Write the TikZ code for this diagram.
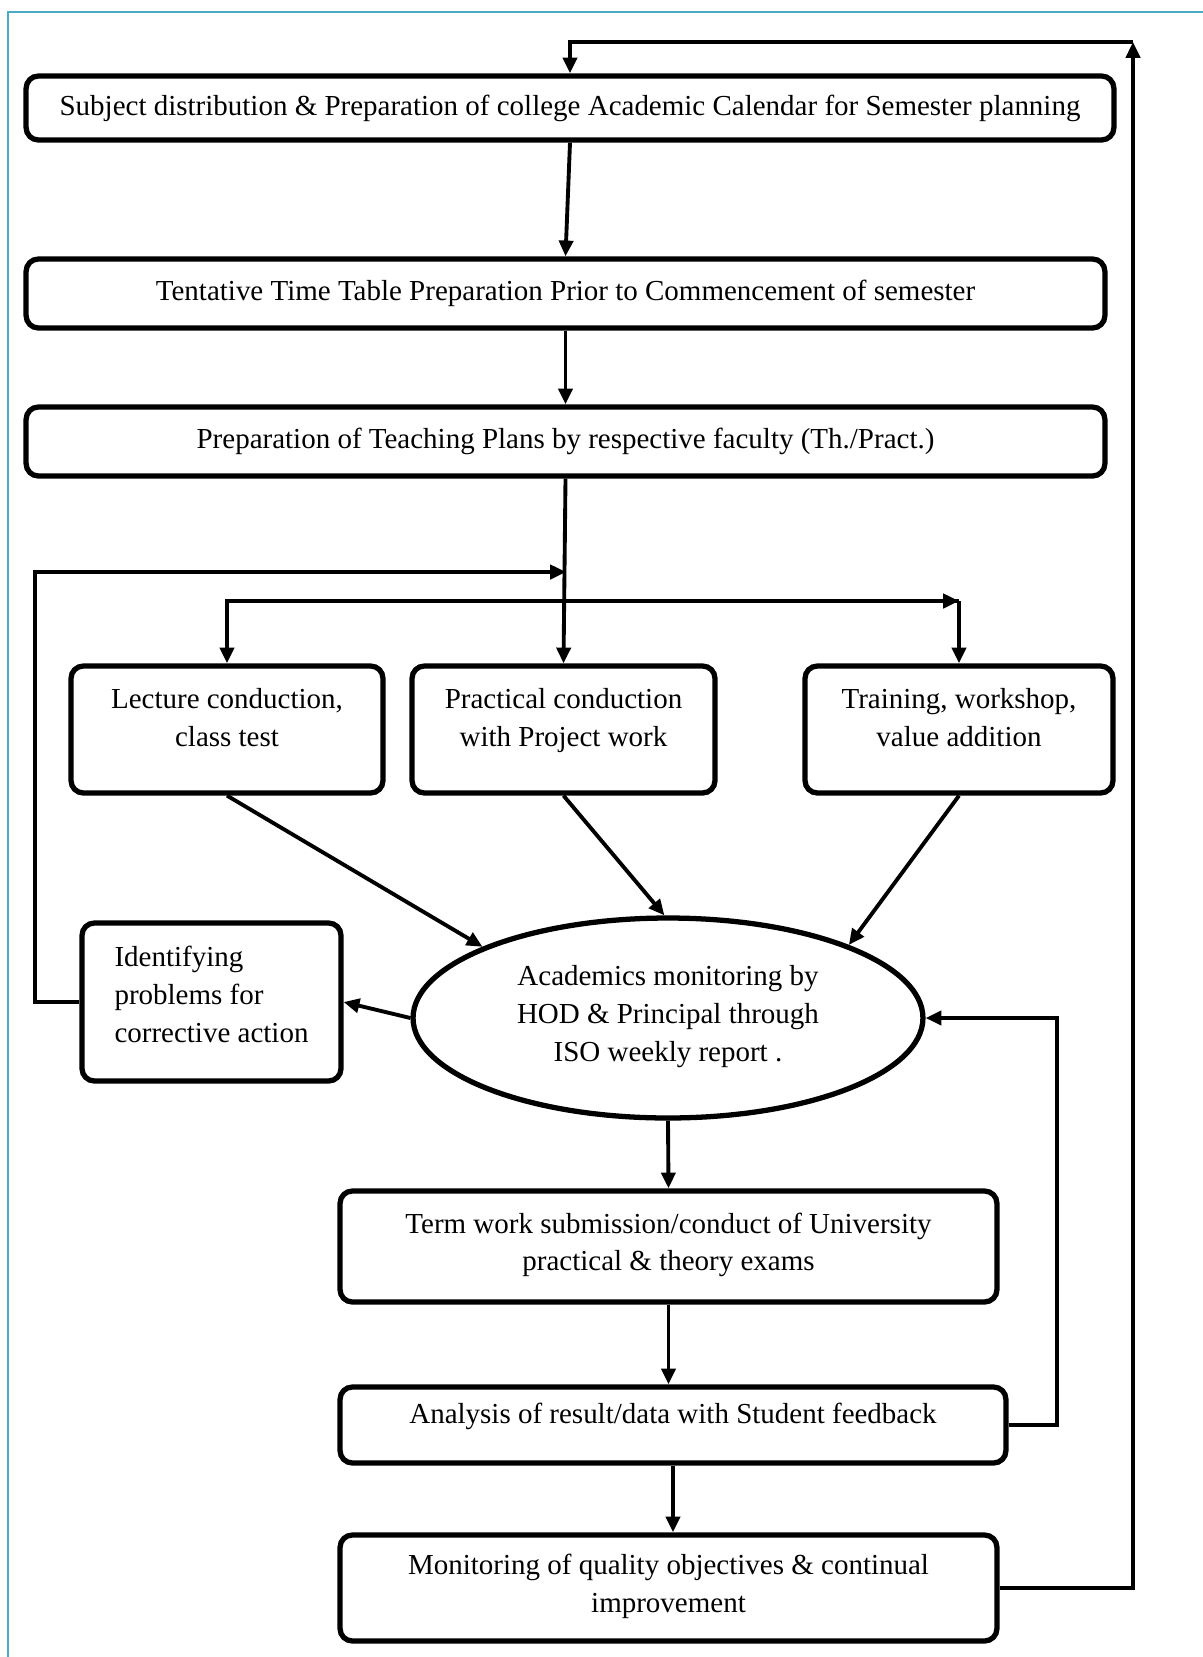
\documentclass[tikz,border=0pt]{standalone}
\usepackage{fontspec}
\setmainfont{Liberation Serif}
\usetikzlibrary{arrows.meta,shapes.geometric}
\definecolor{framecyan}{RGB}{75,172,198}
\begin{document}
\begin{tikzpicture}[x=0.02cm,y=-0.02cm,
  box/.style={draw,line width=3pt,rounded corners=7pt,align=center,inner sep=2pt,
    font=\fontsize{16.5}{21.5}\selectfont},
  oval/.style={draw,ellipse,line width=3pt,align=center,inner sep=0pt,
    font=\fontsize{16.5}{21.5}\selectfont},
  arr/.style={-{Triangle[length=9pt,width=8pt]},line width=2.2pt}]
\useasboundingbox (0,0) rectangle (1203,1657);
\draw[framecyan,line width=1.6pt] (8,1657)--(8,12)--(1203,12);
% main chain
\node[box,minimum width=21.76cm,minimum height=1.28cm] (subj) at (570,108)
  {Subject distribution \& Preparation of college Academic Calendar for Semester planning};
\node[box,minimum width=21.58cm,minimum height=1.38cm] (tt) at (565.5,293.5)
  {Tentative Time Table Preparation Prior to Commencement of semester};
\node[box,minimum width=21.58cm,minimum height=1.38cm] (plan) at (565.5,441.5)
  {Preparation of Teaching Plans by respective faculty (Th./Pract.)};
\node[box,minimum width=6.24cm,minimum height=2.54cm] (lect) at (227,729.5)
  {Lecture conduction,\\ class test\\[-8pt] \mbox{}};
\node[box,minimum width=6.06cm,minimum height=2.54cm] (prac) at (563.5,729.5)
  {Practical conduction\\ with Project work\\[-8pt] \mbox{}};
\node[box,minimum width=6.16cm,minimum height=2.54cm] (train) at (959,729.5)
  {Training, workshop,\\ value addition\\[-8pt] \mbox{}};
\node[oval,minimum width=10.2cm,minimum height=4cm] (mon) at (668,1018)
  {Academics monitoring by\\ HOD \& Principal through\\ ISO weekly report .\\[-16pt] \mbox{}};
\node[box,align=left,minimum width=5.18cm,minimum height=3.16cm] (ident) at (211.5,1002)
  {Identifying\\ problems for\\ corrective action\\[-13pt] \mbox{}};
\node[box,minimum width=13.14cm,minimum height=2.22cm] (term) at (668.5,1246.5)
  {Term work submission/conduct of University\\ practical \& theory exams\\[-16pt] \mbox{}};
\node[box,minimum width=13.32cm,minimum height=1.52cm] (anal) at (673,1425)
  {Analysis of result/data with Student feedback\\[-8pt] \mbox{}};
\node[box,minimum width=13.14cm,minimum height=2.12cm] (qual) at (668.5,1588)
  {Monitoring of quality objectives \& continual\\ improvement\\[-16pt] \mbox{}};
% junctions
\coordinate (topR) at (1133,42);
\coordinate (fb) at (566,572);
\coordinate (fbL) at (35,572);
\coordinate (dist) at (566,601);
\coordinate (distR) at (959,601);
% arrows
\draw[arr] (subj.south) -- (tt.north);
\draw[arr] (tt.south) -- (plan.north);
\draw[arr] (plan.south) -- (prac.north);
\draw[arr] (distR) -| (lect.north);
\draw[arr] (dist) -- (distR);
\draw[arr] (distR) -- (train.north);
\draw[arr] (lect.south) -- (mon.159);
\draw[arr] (prac.south) -- (mon.92);
\draw[arr] (train.south) -- (mon.22);
\draw[arr] (mon.west) -- (ident.east);
\draw[arr] (ident.west) -| (fbL) -- (fb);
\draw[arr] (mon.south) -- (term.north);
\draw[arr] (term.south) -- (term.south |- anal.north);
\draw[arr] (anal.south) -- (anal.south |- qual.north);
\draw[arr] (anal.east) -- ++(48,0) |- (mon.east);
\draw[arr] (qual.east) -| (topR);
\draw[arr] (topR) -| (subj.north);
\end{tikzpicture}
\end{document}
